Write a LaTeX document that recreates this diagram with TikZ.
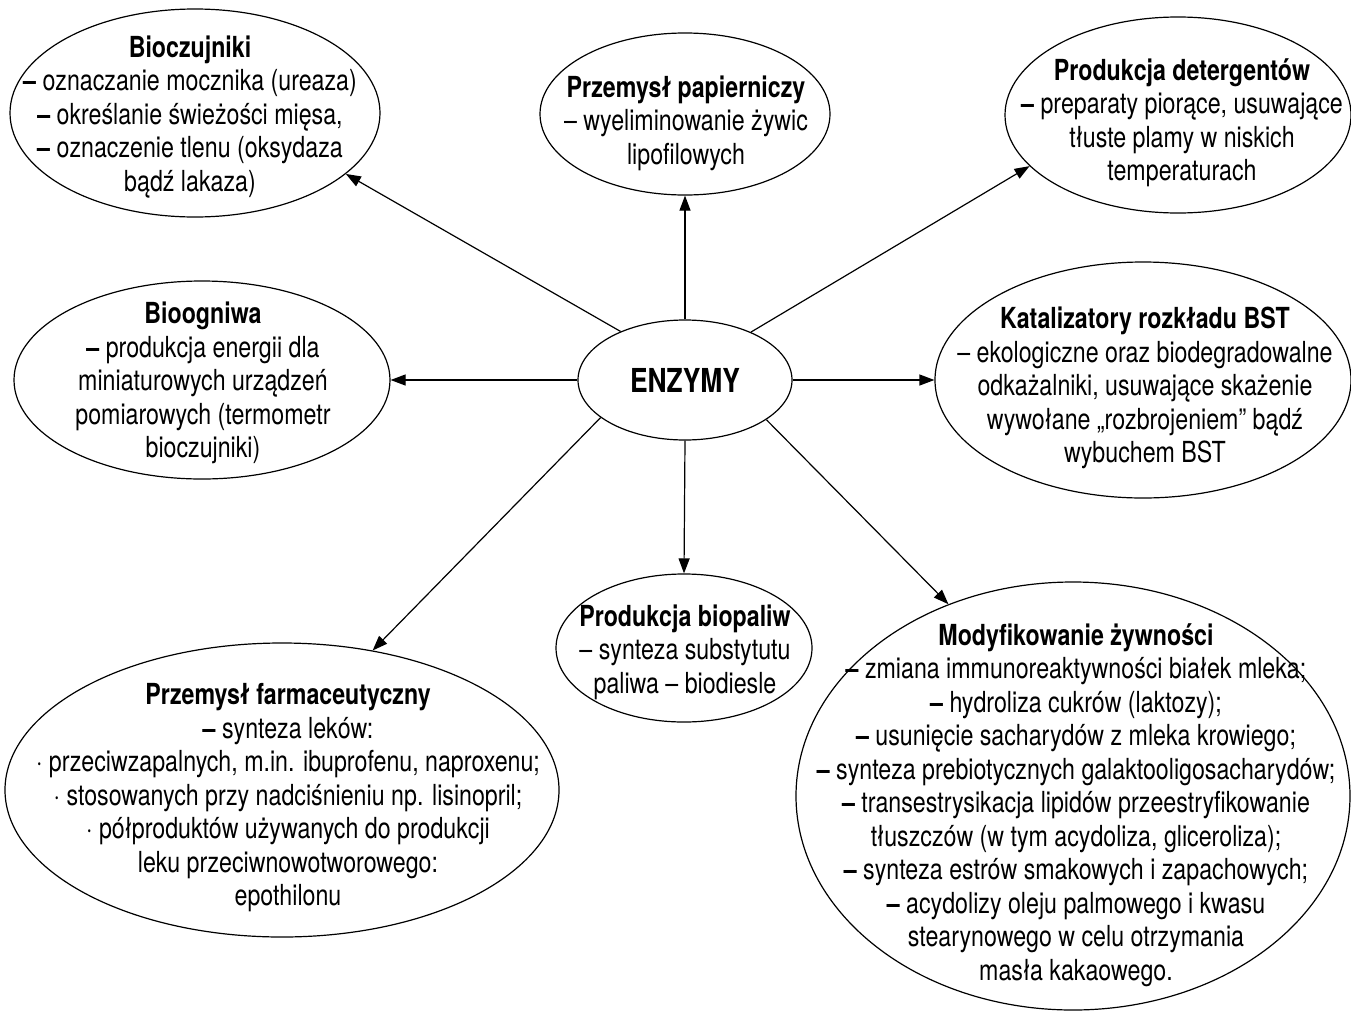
\documentclass[tikz,border=0pt]{standalone}
\usepackage{fontspec}
\setmainfont{TeX Gyre Heros}[FakeStretch=0.8]
\usetikzlibrary{shapes.geometric,arrows.meta}
\begin{document}
\begin{tikzpicture}[x=1pt,y=-1pt,
  bub/.style={ellipse,draw,line width=1.2pt,inner sep=0pt},
  txt/.style={align=center,inner sep=0pt,font=\fontsize{29}{33.5}\selectfont},
  arr/.style={line width=1.2pt,-{Triangle[length=15pt,width=11pt]}}]
\useasboundingbox (0,0) rectangle (1351,1012);

% ellipses
\node[bub,minimum width=370pt,minimum height=208pt] (bio) at (195,113) {};
\node[bub,minimum width=290pt,minimum height=162pt] (pap) at (685,114) {};
\node[bub,minimum width=346pt,minimum height=196pt] (det) at (1178,115) {};
\node[bub,minimum width=376pt,minimum height=198pt] (ogn) at (202,380) {};
\node[bub,minimum width=214pt,minimum height=120pt] (enz) at (685,380) {};
\node[bub,minimum width=416pt,minimum height=236pt] (kat) at (1143,380) {};
\node[bub,minimum width=256pt,minimum height=148pt] (pal) at (684,648) {};
\node[bub,minimum width=554pt,minimum height=294pt] (farm) at (282,790) {};
\node[bub,minimum width=554pt,minimum height=428pt] (mod) at (1073,796) {};

% texts
\node[txt] (biot) at (190,117) {\textbf{Bioczujniki}\\
\textbf{–} oznaczanie mocznika (ureaza)\\
\textbf{–} określanie świeżości mięsa,\\
\textbf{–} oznaczenie tlenu (oksydaza\\
bądź lakaza)};
\node[txt] (papt) at (686,123) {\textbf{Przemysł papierniczy}\\
– wyeliminowanie żywic\\
lipofilowych};
\node[txt] (dett) at (1182,123) {\textbf{Produkcja detergentów}\\
\textbf{–} preparaty piorące, usuwające\\
tłuste plamy w niskich\\
temperaturach};
\node[txt] (ognt) at (203,383) {\textbf{Bioogniwa}\\
\textbf{–} produkcja energii dla\\
miniaturowych urządzeń\\
pomiarowych (termometr\\
bioczujniki)};
\node[inner sep=0pt,font=\fontsize{33}{38}\selectfont\bfseries] (enzt) at (685,380) {ENZYMY};
\node[txt] (katt) at (1145,388) {\textbf{Katalizatory rozkładu BST}\\
– ekologiczne oraz biodegradowalne\\
odkażalniki, usuwające skażenie\\
wywołane „rozbrojeniem” bądź\\
wybuchem BST};
\node[txt] (palt) at (685,652) {\textbf{Produkcja biopaliw}\\
– synteza substytutu\\
paliwa – biodiesle};
\node[txt] (farmt) at (288,798) {\textbf{Przemysł farmaceutyczny}\\
\textbf{–} synteza leków:\\
· przeciwzapalnych, m.in. ibuprofenu, naproxenu;\\
· stosowanych przy nadciśnieniu np. lisinopril;\\
· półproduktów używanych do produkcji\\
leku przeciwnowotworowego:\\
epothilonu};
\node[txt] (modt) at (1076,805) {\textbf{Modyfikowanie żywności}\\
\textbf{–} zmiana immunoreaktywności białek mleka;\\
\textbf{–} hydroliza cukrów (laktozy);\\
\textbf{–} usunięcie sacharydów z mleka krowiego;\\
\textbf{–} synteza prebiotycznych galaktooligosacharydów;\\
\textbf{–} transestrysikacja lipidów przeestryfikowanie\\
tłuszczów (w tym acydoliza, gliceroliza);\\
\textbf{–} synteza estrów smakowych i zapachowych;\\
\textbf{–} acydolizy oleju palmowego i kwasu\\
stearynowego w celu otrzymania\\
masła kakaowego.};

% arrows
\draw[arr] (enz.143.6) -- (bio.-22.3);
\draw[arr] (enz.90) -- (pap.-90);
\draw[arr] (enz.36) -- (det.199.3);
\draw[arr] (enz.180) -- (ogn.0);
\draw[arr] (enz.0) -- (kat.180);
\draw[arr] (enz.-90) -- (pal.90);
\draw[arr] (enz.204.6) -- (farm.57.3);
\draw[arr] (enz.-26.8) -- (mod.123.2);
\end{tikzpicture}
\end{document}
